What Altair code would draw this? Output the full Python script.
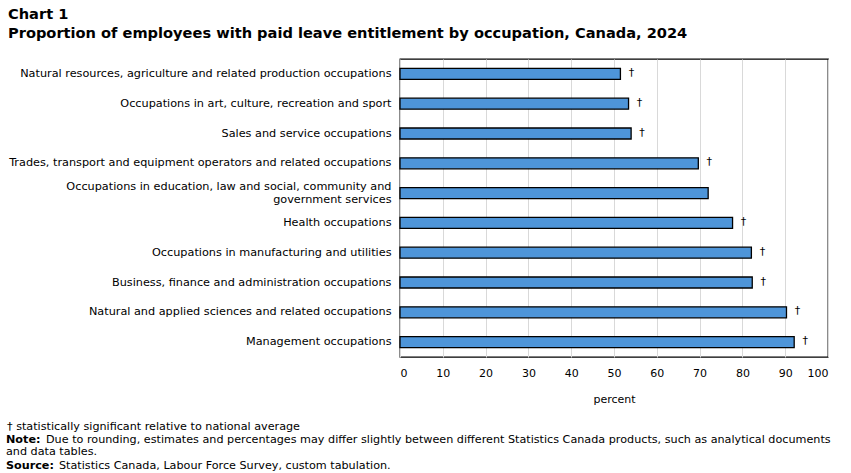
import altair as alt
import pandas as pd

# Occupation groups, top to bottom
occupations = [
    "Natural resources, agriculture and related production occupations",
    "Occupations in art, culture, recreation and sport",
    "Sales and service occupations",
    "Trades, transport and equipment operators and related occupations",
    "Occupations in education, law and social, community and\ngovernment services",
    "Health occupations",
    "Occupations in manufacturing and utilities",
    "Business, finance and administration occupations",
    "Natural and applied sciences and related occupations",
    "Management occupations",
]
# Share of employees with paid leave entitlement (percent)
percent = [51.5, 53.4, 54.0, 69.7, 72.0, 77.7, 82.1, 82.3, 90.3, 92.1]
# Statistical significance marker relative to national average
significance = ["†", "†", "†", "†", "", "†", "†", "†", "†", "†"]

x_ticks = [0, 10, 20, 30, 40, 50, 60, 70, 80, 90, 100]

title_lines = [
    "Chart 1",
    "Proportion of employees with paid leave entitlement by occupation, Canada, 2024",
]

FONT = "DejaVu Sans"

df = pd.DataFrame({"occupation": occupations, "percent": percent, "sig": significance})

y_scale = alt.Scale(paddingInner=0.63, paddingOuter=0.315)
x_scale = alt.Scale(domain=[0, 100], nice=False)

y_enc = alt.Y(
    "occupation:N",
    sort=occupations,
    title=None,
    scale=y_scale,
    axis=alt.Axis(
        labelExpr="split(datum.label, '\\n')",
        labelFont=FONT,
        labelFontSize=11.25,
        labelColor="#000000",
        labelPadding=9,
        labelLimit=400,
        ticks=False,
        domain=False,
        labelLineHeight=13,
        # centre two-line labels on their bar
        labelOffset={"condition": {"test": "indexof(datum.label, '\\n') >= 0", "value": -6.5}, "value": 0},
    ),
)

x_enc = alt.X(
    "percent:Q",
    title="percent",
    scale=x_scale,
    axis=alt.Axis(
        values=x_ticks,
        labelFont=FONT,
        labelFontSize=11,
        labelColor="#000000",
        labelPadding=10,
        ticks=False,
        domain=False,
        grid=True,
        gridColor="#d9d9d9",
        gridWidth=1,
        titleFont=FONT,
        titleFontSize=11,
        titleFontWeight="normal",
        titleColor="#000000",
        titlePadding=15,
    ),
)

bars = alt.Chart(df).mark_bar(
    color="#4e95d9", stroke="#000000", strokeWidth=1.3
).encode(x=x_enc, y=y_enc)

daggers = alt.Chart(df).mark_text(
    align="center", baseline="middle", dx=11, dy=-1, font=FONT, fontSize=11, color="#000000"
).encode(
    x=alt.X("percent:Q", scale=x_scale),
    y=alt.Y("occupation:N", sort=occupations, scale=y_scale),
    text="sig:N",
)

plot = alt.layer(bars, daggers)

# Headline above the plot
head = pd.DataFrame({"t": title_lines, "yy": [-40, -21]})
title = alt.Chart(head).mark_text(
    align="left", baseline="alphabetic", font=FONT, fontSize=14.6, fontWeight="bold", color="#000000"
).encode(
    x=alt.value(-392),
    y=alt.Y("yy:Q", scale=None, axis=None),
    text="t:N",
)

# Footnotes below the axis
notes = pd.DataFrame({
    "t": [
        "† statistically significant relative to national average",
        "Due to rounding, estimates and percentages may differ slightly between different Statistics Canada products, such as analytical documents",
        "and data tables.",
        "Statistics Canada, Labour Force Survey, custom tabulation.",
    ],
    "yy": [371, 383.5, 396, 410],
    "xx": [-393, -354, -394, -341],
})
labels = pd.DataFrame({"t": ["Note:", "Source:"], "yy": [383.5, 410]})
note_text = alt.Chart(notes).mark_text(
    align="left", baseline="alphabetic", font=FONT, fontSize=11.2, color="#000000"
).encode(
    x=alt.X("xx:Q", scale=None, axis=None),
    y=alt.Y("yy:Q", scale=None, axis=None),
    text="t:N",
)
note_bold = alt.Chart(labels).mark_text(
    align="left", baseline="alphabetic", font=FONT, fontSize=11.2, fontWeight="bold", color="#000000"
).encode(
    x=alt.value(-394),
    y=alt.Y("yy:Q", scale=None, axis=None),
    text="t:N",
)

chart = (
    alt.layer(plot, title, note_text, note_bold)
    .resolve_scale(x="independent", y="independent")
    .resolve_axis(x="independent", y="independent")
    .properties(
        width=428,
        height=298,
        autosize=alt.AutoSizeParams(type="none"),
        padding={"left": 400, "top": 59, "right": 23, "bottom": 116},
        background="#ffffff",
    )
    .configure_view(stroke="#000000", strokeWidth=1.3)
)

chart.save("out.html", embed_options={"renderer": "svg", "actions": False})
